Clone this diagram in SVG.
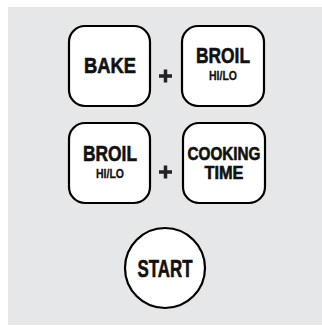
<svg xmlns="http://www.w3.org/2000/svg" width="322" height="327" viewBox="0 0 322 327">
<style>
.btn{fill:#fff;stroke:#000;stroke-width:2.2}
.t{font-family:"Liberation Sans",Arial,sans-serif;font-weight:bold;fill:#111;stroke:#111;stroke-width:0.6;text-anchor:middle}
.plus{stroke:#222;stroke-width:3.5}
</style>
<rect x="8" y="7" width="314" height="318" fill="#e6e7e8"/>
<g id="bake">
<rect class="btn" x="69" y="26" width="81" height="80" rx="16"/>
<text class="t" x="110" y="73" font-size="22" textLength="52" lengthAdjust="spacingAndGlyphs">BAKE</text>
</g>
<g id="broil1">
<rect class="btn" x="182" y="26" width="82" height="80" rx="16"/>
<text class="t" x="223" y="63" font-size="22" textLength="54" lengthAdjust="spacingAndGlyphs">BROIL</text>
<text class="t" x="223" y="80" font-size="13.5" textLength="28" lengthAdjust="spacingAndGlyphs" style="stroke-width:0.3">HI/LO</text>
</g>
<g id="broil2">
<rect class="btn" x="69" y="123" width="81" height="80" rx="16"/>
<text class="t" x="110" y="161" font-size="22" textLength="54" lengthAdjust="spacingAndGlyphs">BROIL</text>
<text class="t" x="110" y="178" font-size="13.5" textLength="28" lengthAdjust="spacingAndGlyphs" style="stroke-width:0.3">HI/LO</text>
</g>
<g id="cooking">
<rect class="btn" x="183" y="123" width="82" height="80" rx="16"/>
<text class="t" x="224" y="160" font-size="18" textLength="73" lengthAdjust="spacingAndGlyphs">COOKING</text>
<text class="t" x="224" y="179" font-size="18" textLength="39" lengthAdjust="spacingAndGlyphs">TIME</text>
</g>
<g id="start">
<circle class="btn" cx="165" cy="268" r="40"/>
<text class="t" x="165" y="277" font-size="23" textLength="55" lengthAdjust="spacingAndGlyphs">START</text>
</g>
<g id="connectors">
<path class="plus" d="M159 76h13M165.5 69.5v13"/>
<path class="plus" d="M159 172h13M165.5 165.5v13"/>
</g>
</svg>
